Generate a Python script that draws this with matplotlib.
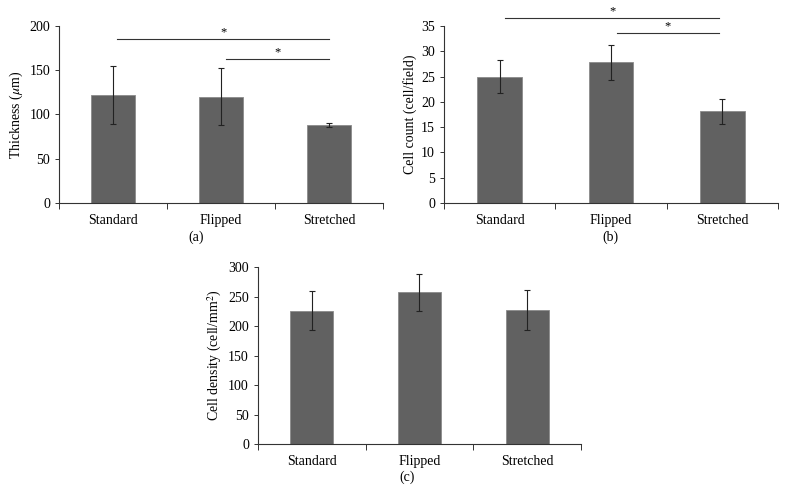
import matplotlib
matplotlib.use("Agg")
import matplotlib.pyplot as plt
import numpy as np

plt.rcParams['font.family'] = ['Liberation Serif', 'DejaVu Serif']
plt.rcParams['mathtext.fontset'] = 'stix'

categories = ["Standard", "Flipped", "Stretched"]

thickness = [122, 120, 88]
thickness_err = [32.5, 32, 2.5]

cell_count = [25.0, 27.8, 18.1]
cell_count_err = [3.3, 3.5, 2.5]

cell_density = [226, 257, 227]
cell_density_err = [32.5, 31, 34.5]

# significance brackets: (x_start, x_end, y)
sig_a = [(0.04, 2.0, 185), (1.05, 2.0, 163)]
sig_b = [(0.05, 1.97, 36.6), (1.05, 1.97, 33.6)]

fig = plt.figure(figsize=(7.86, 4.99), dpi=100)

bar_color = "#616161"
edge_color = "#8a8a8a"
fs = 10


def draw(ax, vals, errs, ylim, yticks, ylabel):
    x = np.arange(len(categories))
    ax.bar(x, vals, width=0.4, color=bar_color, edgecolor=edge_color, linewidth=0.6, zorder=2)
    ax.errorbar(x, vals, yerr=errs, fmt='none', ecolor='#222222', elinewidth=0.8,
                capsize=2.5, capthick=0.8, zorder=3)
    ax.set_xlim(-0.5, 2.5)
    ax.set_ylim(*ylim)
    ax.set_yticks(yticks)
    ax.set_xticks([-0.5, 0.5, 1.5, 2.5])
    ax.set_xticklabels([])
    ax.set_xticks(x, minor=True)
    ax.set_xticklabels(categories, minor=True, fontsize=fs)
    ax.tick_params(axis='x', which='major', direction='out', length=4, width=0.7, color='#333333')
    ax.tick_params(axis='x', which='minor', length=0, pad=8)
    ax.tick_params(axis='y', direction='out', length=3, width=0.7, labelsize=fs, color='#333333')
    for s in ['top', 'right']:
        ax.spines[s].set_visible(False)
    for s in ['left', 'bottom']:
        ax.spines[s].set_color('#333333')
        ax.spines[s].set_linewidth(0.8)
    ax.set_ylabel(ylabel, fontsize=fs, labelpad=3)


def sig(ax, brackets, dy):
    for x0, x1, y in brackets:
        ax.plot([x0, x1], [y, y], color='#333333', lw=0.8, clip_on=False)
        ax.text((x0 + x1) / 2, y + dy, "*", ha='center', va='bottom', fontsize=fs - 1)


ax_a = fig.add_axes([0.0751, 0.5932, 0.4122, 0.3547])
draw(ax_a, thickness, thickness_err, (0, 200), [0, 50, 100, 150, 200], r"Thickness ($\mu$m)")
sig(ax_a, sig_a, 1)
fig.text(0.249, 0.525, "(a)", ha='center', va='center', fontsize=fs)

ax_b = fig.add_axes([0.5649, 0.5932, 0.4249, 0.3547])
draw(ax_b, cell_count, cell_count_err, (0, 35), [0, 5, 10, 15, 20, 25, 30, 35], "Cell count (cell/field)")
sig(ax_b, sig_b, 0.2)
fig.text(0.777, 0.525, "(b)", ha='center', va='center', fontsize=fs)

ax_c = fig.add_axes([0.3282, 0.1102, 0.4110, 0.3547])
draw(ax_c, cell_density, cell_density_err, (0, 300), [0, 50, 100, 150, 200, 250, 300],
     r"Cell density (cell/mm$^2$)")
fig.text(0.518, 0.044, "(c)", ha='center', va='center', fontsize=fs)

fig.savefig("out.png", dpi=100)
